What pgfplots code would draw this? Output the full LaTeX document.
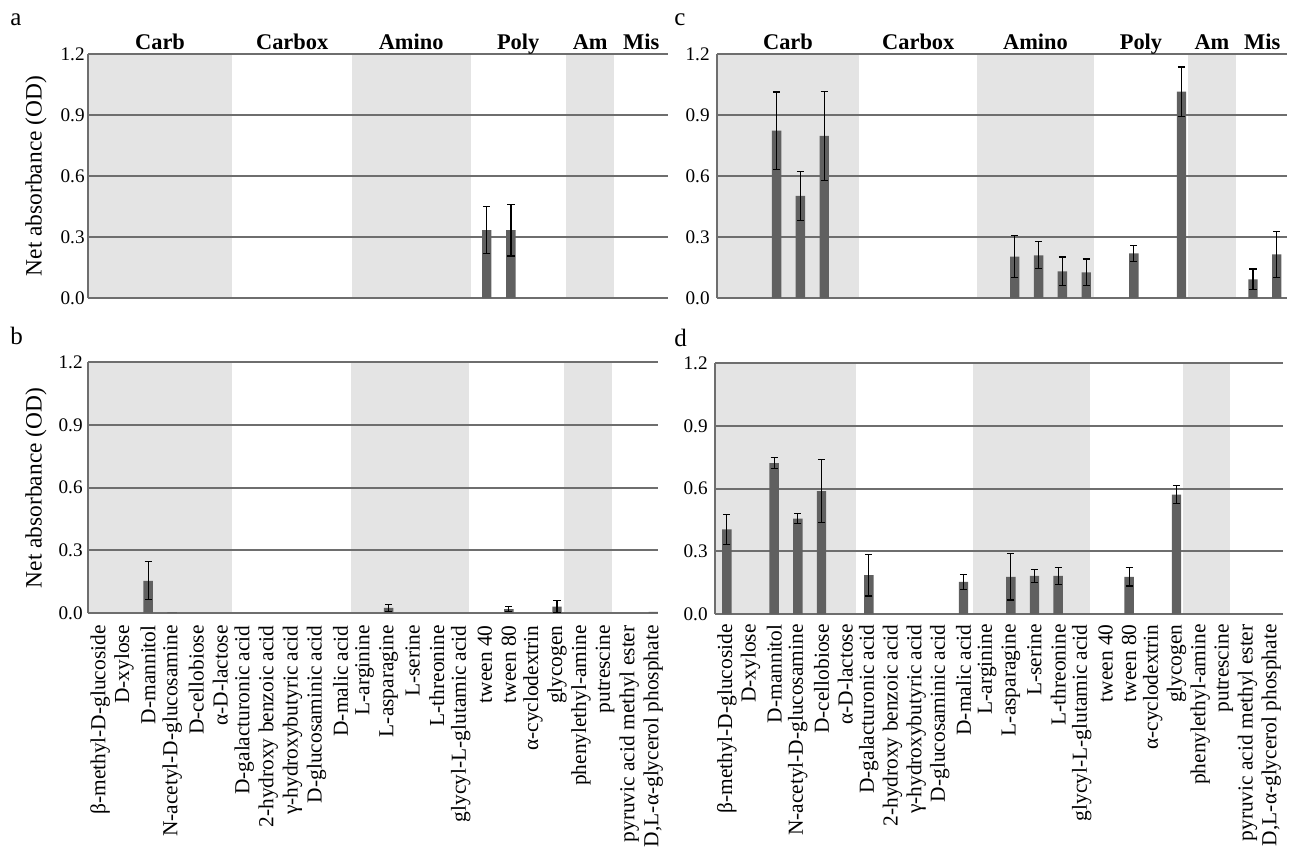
\documentclass[border=0pt]{standalone}
\usepackage{fontspec}
\setmainfont{Liberation Serif}
\usepackage{pgfplots}
\pgfplotsset{compat=1.18}

\definecolor{bandc}{HTML}{E4E4E4}
\definecolor{barc}{HTML}{606060}
\definecolor{linec}{HTML}{6E6E6E}

% substrate names, in plate order
\def\subs{{β-methyl-D-glucoside},D-xylose,D-mannitol,N-acetyl-D-glucosamine,D-cellobiose,α-D-lactose,
  D-galacturonic acid,2-hydroxy benzoic acid,γ-hydroxybutyric acid,D-glucosaminic acid,D-malic acid,
  L-arginine,L-asparagine,L-serine,L-threonine,glycyl-L-glutamic acid,
  tween 40,tween 80,α-cyclodextrin,glycogen,
  phenylethyl-amine,putrescine,
  pyruvic acid methyl ester,{D,L-α-glycerol phosphate}}

\pgfplotsset{
  panel/.style={
    set layers, scale only axis, clip=false,
    xmin=-0.5, ymin=0, ymax=1.2,
    xtick={0,...,23},
    ytick={0,0.3,0.6,0.9,1.2},
    yticklabel={\pgfmathprintnumber[fixed,fixed zerofill,precision=1,assume math mode=true]{\tick}},
    yticklabel style={font=\fontsize{9.6}{11}\selectfont, inner sep=0pt},
    major tick length=0pt,
    ymajorgrids, grid style={draw=linec, line width=1pt},
    axis x line*=bottom, axis y line*=left,
    axis line style={-, draw=linec, line width=1pt},
    xticklabel style={rotate=90, anchor=east, inner sep=0pt,
      font=\fontsize{10.7}{12}\selectfont},
  },
  bars/.style={ybar, bar shift=0pt, bar width=4.7pt, fill=barc, draw=none,
    error bars/.cd, y dir=both, y explicit,
    error bar style={black, line width=0.6pt},
    error mark options={rotate=90, black, mark size=1.8pt, line width=0.6pt}},
  tiny/.style={ybar, bar shift=0pt, bar width=4.7pt, fill=barc, draw=none},
}

% shaded groups: Carb, Amino, Am
\newcommand\groups{%
  \begin{pgfonlayer}{axis background}
    \fill[bandc] (axis cs:-0.5,0) rectangle (axis cs:5.47,1.2);
    \fill[bandc] (axis cs:10.42,0) rectangle (axis cs:15.33,1.2);
    \fill[bandc] (axis cs:19.28,0) rectangle (axis cs:21.28,1.2);
  \end{pgfonlayer}}
\newcommand\heads{%
  \begin{scope}[font=\fontsize{11.2}{13}\selectfont\bfseries]
    \node[anchor=base] at ([yshift=2.5pt]axis cs:2.48,1.2) {Carb};
    \node[anchor=base] at ([yshift=2.5pt]axis cs:7.95,1.2) {Carbox};
    \node[anchor=base] at ([yshift=2.5pt]axis cs:12.87,1.2) {Amino};
    \node[anchor=base] at ([yshift=2.5pt]axis cs:17.3,1.2) {Poly};
    \node[anchor=base] at ([yshift=2.5pt]axis cs:20.28,1.2) {Am};
    \node[anchor=base] at ([yshift=2.5pt]axis cs:22.39,1.2) {Mis};
  \end{scope}}

\begin{document}
\begin{tikzpicture}
% page frame, 2 px = 1 pt
\path (0,0) rectangle (646.5pt,-421pt);

% panel letters and y labels
\begin{scope}[font=\fontsize{12.5}{14}\selectfont]
  \node[anchor=base west, inner sep=0pt] at (5pt,-12.5pt) {a};
  \node[anchor=base west, inner sep=0pt] at (5pt,-172pt) {b};
  \node[anchor=base west, inner sep=0pt] at (337pt,-12.5pt) {c};
  \node[anchor=base west, inner sep=0pt] at (337pt,-173pt) {d};
\end{scope}
\node[rotate=90, font=\fontsize{11.7}{13}\selectfont] at (18pt,-88pt) {Net absorbance (OD)};
\node[rotate=90, font=\fontsize{11.7}{13}\selectfont] at (18pt,-244pt) {Net absorbance (OD)};

% a
\begin{axis}[panel, at={(44pt,-149pt)}, anchor=south west, width=290pt, height=122pt,
  xmax=23.5, xticklabels={}, yticklabel shift=1.5pt]
\groups
\heads
\addplot[bars] coordinates {(16,0.334) +- (0,0.116) (17,0.334) +- (0,0.127)};
\end{axis}

% c
\begin{axis}[panel, at={(358.5pt,-149pt)}, anchor=south west, width=285pt, height=122pt,
  xmax=23.43, xticklabels={}, yticklabel shift=3.5pt]
\groups
\heads
\addplot[bars] coordinates {
  (2,0.823) +- (0,0.190) (3,0.502) +- (0,0.119) (4,0.797) +- (0,0.218)
  (12,0.203) +- (0,0.103) (13,0.210) +- (0,0.066) (14,0.131) +- (0,0.071)
  (15,0.126) +- (0,0.066) (17,0.220) +- (0,0.040) (19,1.015) +- (0,0.121)
  (22,0.092) +- (0,0.051) (23,0.215) +- (0,0.113)};
\end{axis}

% b
\begin{axis}[panel, at={(44pt,-306.5pt)}, anchor=south west, width=285pt, height=125.5pt,
  xmax=23.2, xticklabels/.expand once=\subs, xticklabel shift=6pt, yticklabel shift=2.5pt]
\groups
\addplot[bars] coordinates {
  (2,0.154) +- (0,0.091) (12,0.025) +- (0,0.017)
  (17,0.019) +- (0,0.013) (19,0.030) +- (0,0.028)};
\addplot[tiny] coordinates {(3,0.004) (23,0.005)};
\end{axis}

% d
\begin{axis}[panel, at={(357.5pt,-307pt)}, anchor=south west, width=284pt, height=125.5pt,
  xmax=23.5, xticklabels/.expand once=\subs, xticklabel shift=5pt, yticklabel shift=3.5pt]
\groups
\addplot[bars] coordinates {
  (0,0.405) +- (0,0.072) (2,0.722) +- (0,0.028) (3,0.456) +- (0,0.025)
  (4,0.587) +- (0,0.150) (6,0.186) +- (0,0.100) (10,0.154) +- (0,0.035)
  (12,0.178) +- (0,0.111) (13,0.182) +- (0,0.031) (14,0.182) +- (0,0.039)
  (17,0.178) +- (0,0.044) (19,0.571) +- (0,0.043)};
\end{axis}
\end{tikzpicture}
\end{document}
